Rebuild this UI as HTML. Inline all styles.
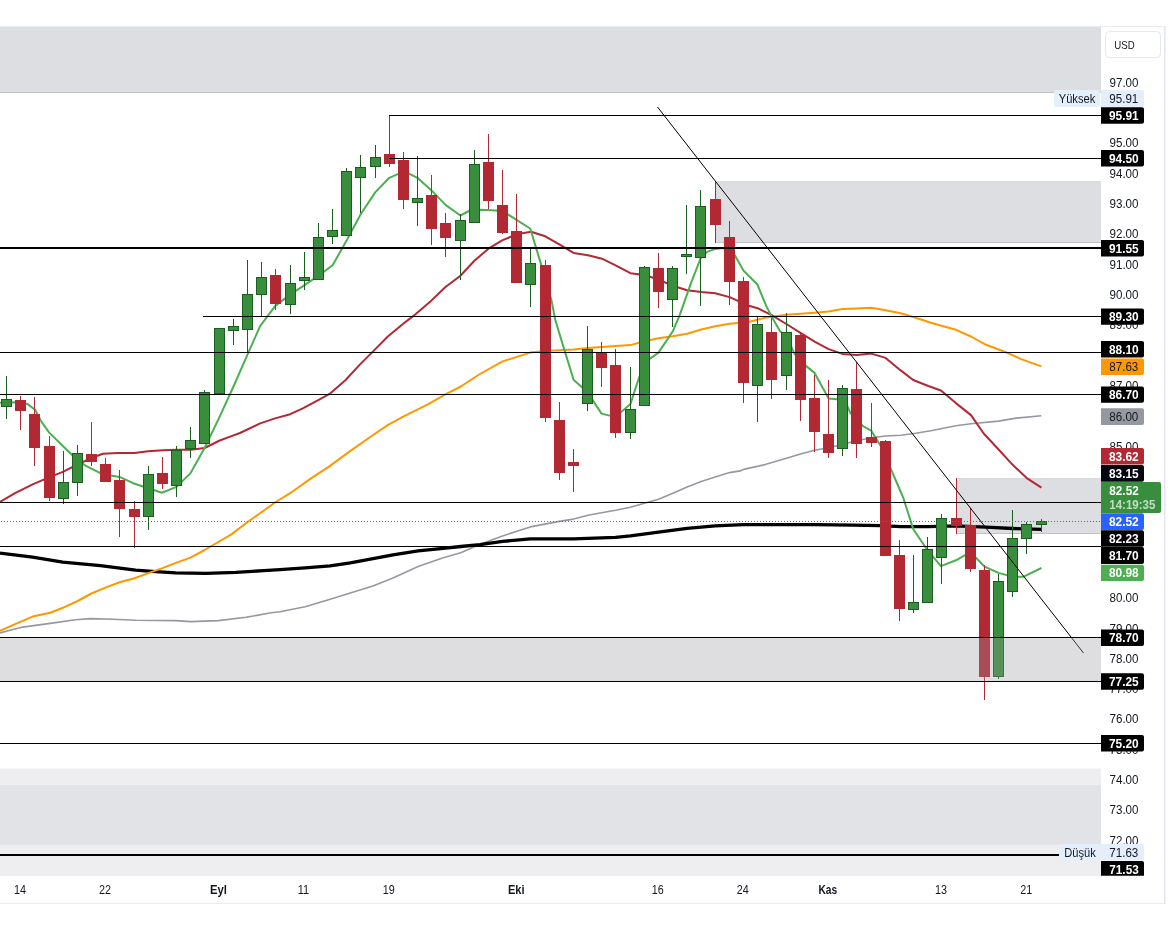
<!DOCTYPE html><html><head><meta charset="utf-8"><title>chart</title>
<style>html,body{margin:0;padding:0;background:#fff}body{width:1175px;height:939px;overflow:hidden}svg{display:block}text{font-family:"Liberation Sans",sans-serif}</style></head><body>
<svg width="1175" height="939" viewBox="0 0 1175 939" style="will-change:transform">
<rect width="1175" height="939" fill="#fff"/>
<defs><clipPath id="cc"><rect x="0" y="27" width="1101" height="849"/></clipPath></defs>
<g clip-path="url(#cc)">
<g shape-rendering="crispEdges">
<rect x="-2" y="20" width="1104" height="72.5" fill="rgba(120,123,134,0.25)" stroke="rgba(120,123,134,0.28)" stroke-width="1"/>
<rect x="716.5" y="181.5" width="386" height="61" fill="rgba(120,123,134,0.25)" stroke="rgba(120,123,134,0.28)" stroke-width="1"/>
<rect x="956.5" y="478.5" width="146" height="55" fill="rgba(120,123,134,0.25)" stroke="rgba(120,123,134,0.28)" stroke-width="1"/>
<rect x="-2" y="768.5" width="1104" height="120" fill="rgba(120,123,134,0.125)" stroke="rgba(120,123,134,0.08)" stroke-width="1"/>
<rect x="-2" y="785.5" width="1104" height="58.5" fill="rgba(120,123,134,0.095)" stroke="rgba(120,123,134,0.08)" stroke-width="1"/>
</g>
<path d="M0.0 632.9 L22.6 627.1 L50.2 623.4 L75.3 619.8 L90.4 618.6 L113.0 619.3 L135.6 620.3 L175.7 620.6 L190.8 621.6 L218.4 620.6 L246.0 617.3 L271.2 612.8 L280.0 611.8 L305.1 606.8 L330.2 599.3 L350.3 593.0 L372.9 586.0 L393.0 577.9 L418.1 566.6 L443.2 557.8 L460.8 552.8 L480.0 544.2 L502.6 535.9 L530.2 526.9 L559.3 521.4 L573.6 519.1 L588.0 515.3 L601.5 512.8 L615.6 510.3 L630.4 507.3 L644.4 503.3 L658.5 499.3 L672.8 493.2 L687.1 487.0 L701.2 481.4 L715.2 476.9 L729.6 472.6 L740.0 470.9 L743.6 469.4 L765.1 464.6 L786.4 458.3 L800.5 454.0 L814.6 450.3 L828.6 447.8 L842.4 444.5 L856.5 440.7 L871.3 437.7 L885.6 436.0 L900.7 435.2 L915.7 433.2 L930.8 430.7 L955.9 425.7 L971.0 423.7 L998.6 421.1 L1016.2 418.1 L1041.4 415.8" fill="none" stroke="#9598a1" stroke-width="1.6" stroke-linejoin="round"/>
<path d="M0.0 553.1 L32.6 557.1 L62.8 562.1 L100.4 565.6 L135.6 570.1 L155.7 571.6 L175.7 572.9 L205.9 573.4 L236.0 572.4 L263.6 570.6 L280.0 569.6 L305.1 567.9 L330.2 565.9 L350.3 562.9 L370.4 559.1 L393.0 554.8 L418.1 550.8 L443.2 548.3 L460.8 546.5 L480.0 544.7 L502.6 541.4 L530.2 538.9 L573.6 538.9 L615.6 537.4 L630.4 535.9 L658.5 532.2 L687.1 528.4 L715.2 525.9 L743.6 524.6 L777.7 524.7 L815.3 524.7 L853.0 525.2 L880.6 525.7 L900.7 526.7 L928.3 526.7 L955.9 525.9 L986.0 527.2 L1012.7 528.5 L1042.0 529.3" fill="none" stroke="#000" stroke-width="3.3" stroke-linejoin="round"/>
<path d="M0.0 630.9 L15.1 624.1 L32.6 616.6 L50.2 612.8 L62.8 607.8 L77.8 601.0 L91.4 593.5 L105.4 587.7 L119.5 582.2 L134.6 578.2 L148.4 573.1 L162.4 568.1 L176.5 562.6 L190.6 557.6 L204.6 550.0 L231.0 534.6 L248.6 521.3 L263.6 510.8 L275.7 502.0 L290.2 493.2 L310.3 478.9 L330.4 465.6 L348.0 452.6 L368.0 438.5 L388.1 424.9 L403.2 416.7 L428.3 404.1 L445.9 394.1 L460.9 386.5 L476.0 376.5 L480.0 374.0 L502.6 361.4 L530.2 352.6 L545.3 350.9 L573.6 349.6 L588.0 348.1 L615.6 345.9 L630.4 345.1 L644.4 341.3 L658.5 338.3 L672.8 336.3 L687.1 333.8 L701.2 329.5 L715.2 326.3 L729.6 323.8 L748.8 322.0 L765.1 317.7 L786.4 314.7 L814.6 312.7 L828.6 311.4 L842.4 308.9 L856.5 308.4 L871.3 307.7 L885.6 310.2 L900.7 313.2 L915.7 317.7 L930.8 322.7 L955.9 329.8 L971.0 336.5 L986.0 344.8 L1006.1 352.3 L1021.2 359.1 L1041.4 366.4" fill="none" stroke="#ff9800" stroke-width="2" stroke-linejoin="round"/>
<path d="M0.0 502.0 L15.1 493.2 L32.6 484.4 L50.2 476.9 L62.8 471.9 L77.8 464.3 L91.4 458.0 L102.9 453.8 L118.0 453.0 L134.3 453.0 L148.1 451.3 L163.2 450.3 L176.5 449.8 L190.8 449.8 L204.6 448.0 L219.7 440.5 L233.5 435.4 L240.0 433.0 L260.1 423.4 L275.1 418.4 L290.2 414.2 L302.8 408.4 L317.8 400.3 L330.4 393.3 L345.4 380.3 L360.5 363.9 L373.1 351.4 L388.1 336.3 L403.2 323.8 L413.4 315.9 L431.0 300.9 L445.5 287.0 L460.4 275.7 L474.4 260.7 L489.3 248.1 L502.6 240.1 L516.9 234.3 L531.0 231.8 L545.3 236.3 L559.3 244.4 L573.6 252.9 L588.0 255.2 L602.0 258.7 L616.1 265.7 L630.4 273.2 L644.4 275.0 L658.5 279.5 L672.8 285.8 L687.1 290.3 L701.2 292.1 L715.2 293.3 L729.6 297.1 L743.6 303.4 L748.8 305.7 L757.6 308.2 L771.6 315.2 L786.4 324.0 L800.5 332.8 L814.6 341.6 L828.6 349.1 L842.4 353.9 L856.5 354.9 L871.3 353.6 L885.6 357.9 L900.7 370.4 L913.2 380.0 L928.3 386.0 L940.9 390.5 L955.9 403.1 L971.0 415.1 L983.5 433.2 L998.6 449.5 L1010.6 462.6 L1013.7 465.8 L1027.2 478.4 L1041.4 487.7" fill="none" stroke="#b22833" stroke-width="2" stroke-linejoin="round"/>
<path d="M0.0 402.8 L15.1 402.3 L27.6 404.1 L35.1 409.8 L41.4 421.6 L49.0 432.4 L62.8 446.0 L75.3 458.0 L85.4 465.6 L100.4 473.1 L110.5 475.6 L119.5 476.9 L133.1 483.2 L148.4 488.2 L161.9 492.7 L176.5 486.9 L190.6 473.1 L204.6 448.0 L219.7 416.6 L233.5 386.5 L247.8 353.9 L260.1 326.1 L275.3 305.9 L290.1 294.6 L304.2 285.3 L318.5 275.7 L332.6 265.2 L346.6 240.6 L360.7 214.2 L375.2 192.4 L389.3 177.8 L399.6 173.3 L408.4 173.3 L417.4 177.8 L431.5 190.4 L445.5 204.9 L460.4 215.5 L469.9 210.5 L480.6 209.7 L496.3 210.5 L507.6 214.2 L530.2 228.5 L541.5 265.7 L551.6 300.9 L555.3 320.0 L562.9 345.1 L573.6 379.8 L588.0 392.8 L601.5 413.6 L610.6 415.9 L620.6 412.4 L630.4 404.1 L636.9 384.0 L644.4 362.7 L658.5 352.6 L672.8 331.3 L679.6 315.4 L690.9 283.3 L701.2 256.9 L707.2 251.9 L715.2 248.9 L723.5 248.1 L733.6 253.2 L743.6 270.7 L757.4 284.5 L766.2 305.9 L771.6 316.4 L780.2 331.5 L786.4 335.3 L794.0 352.9 L800.5 361.6 L814.6 372.9 L828.6 398.5 L836.7 399.3 L842.4 395.5 L850.5 413.1 L863.0 426.2 L871.3 430.7 L880.6 445.7 L890.6 468.3 L896.9 483.0 L903.2 497.6 L913.2 529.0 L925.8 547.8 L940.9 566.1 L955.9 560.3 L966.0 554.6 L976.0 557.8 L984.5 566.6 L998.6 572.9 L1012.7 576.7 L1023.7 576.7 L1041.4 568.0" fill="none" stroke="#4caf50" stroke-width="2" stroke-linejoin="round"/>
<g shape-rendering="crispEdges">
<rect x="6" y="376" width="1" height="43" fill="#1b5e20"/>
<rect x="1" y="399" width="11" height="8" fill="#1b5e20"/>
<rect x="2" y="400" width="9" height="6" fill="#388e3c"/>
<rect x="20" y="396" width="1" height="34" fill="#b22833"/>
<rect x="15" y="400" width="11" height="11" fill="#b22833"/>
<rect x="34" y="397" width="1" height="69" fill="#b22833"/>
<rect x="29" y="414" width="11" height="34" fill="#b22833"/>
<rect x="49" y="436" width="1" height="65" fill="#b22833"/>
<rect x="44" y="446" width="11" height="52" fill="#b22833"/>
<rect x="63" y="451" width="1" height="53" fill="#1b5e20"/>
<rect x="58" y="482" width="11" height="17" fill="#1b5e20"/>
<rect x="59" y="483" width="9" height="15" fill="#388e3c"/>
<rect x="77" y="445" width="1" height="51" fill="#1b5e20"/>
<rect x="72" y="453" width="11" height="30" fill="#1b5e20"/>
<rect x="73" y="454" width="9" height="28" fill="#388e3c"/>
<rect x="91" y="422" width="1" height="44" fill="#b22833"/>
<rect x="86" y="454" width="11" height="8" fill="#b22833"/>
<rect x="105" y="458" width="1" height="24" fill="#b22833"/>
<rect x="100" y="464" width="11" height="18" fill="#b22833"/>
<rect x="119" y="470" width="1" height="67" fill="#b22833"/>
<rect x="114" y="480" width="11" height="29" fill="#b22833"/>
<rect x="134" y="501" width="1" height="47" fill="#b22833"/>
<rect x="129" y="509" width="11" height="8" fill="#b22833"/>
<rect x="148" y="466" width="1" height="64" fill="#1b5e20"/>
<rect x="143" y="474" width="11" height="43" fill="#1b5e20"/>
<rect x="144" y="475" width="9" height="41" fill="#388e3c"/>
<rect x="162" y="457" width="1" height="32" fill="#b22833"/>
<rect x="157" y="473" width="11" height="11" fill="#b22833"/>
<rect x="176" y="446" width="1" height="51" fill="#1b5e20"/>
<rect x="171" y="450" width="11" height="36" fill="#1b5e20"/>
<rect x="172" y="451" width="9" height="34" fill="#388e3c"/>
<rect x="190" y="427" width="1" height="31" fill="#1b5e20"/>
<rect x="185" y="440" width="11" height="9" fill="#1b5e20"/>
<rect x="186" y="441" width="9" height="7" fill="#388e3c"/>
<rect x="204" y="390" width="1" height="54" fill="#1b5e20"/>
<rect x="199" y="392" width="11" height="52" fill="#1b5e20"/>
<rect x="200" y="393" width="9" height="50" fill="#388e3c"/>
<rect x="219" y="328" width="1" height="66" fill="#1b5e20"/>
<rect x="214" y="328" width="11" height="66" fill="#1b5e20"/>
<rect x="215" y="329" width="9" height="64" fill="#388e3c"/>
<rect x="233" y="319" width="1" height="26" fill="#1b5e20"/>
<rect x="228" y="326" width="11" height="5" fill="#1b5e20"/>
<rect x="229" y="327" width="9" height="3" fill="#388e3c"/>
<rect x="247" y="260" width="1" height="93" fill="#1b5e20"/>
<rect x="242" y="294" width="11" height="36" fill="#1b5e20"/>
<rect x="243" y="295" width="9" height="34" fill="#388e3c"/>
<rect x="261" y="262" width="1" height="54" fill="#1b5e20"/>
<rect x="256" y="277" width="11" height="18" fill="#1b5e20"/>
<rect x="257" y="278" width="9" height="16" fill="#388e3c"/>
<rect x="275" y="269" width="1" height="41" fill="#b22833"/>
<rect x="270" y="275" width="11" height="29" fill="#b22833"/>
<rect x="290" y="265" width="1" height="49" fill="#1b5e20"/>
<rect x="285" y="283" width="11" height="22" fill="#1b5e20"/>
<rect x="286" y="284" width="9" height="20" fill="#388e3c"/>
<rect x="304" y="252" width="1" height="38" fill="#1b5e20"/>
<rect x="299" y="277" width="11" height="4" fill="#1b5e20"/>
<rect x="300" y="278" width="9" height="2" fill="#388e3c"/>
<rect x="318" y="223" width="1" height="57" fill="#1b5e20"/>
<rect x="313" y="237" width="11" height="43" fill="#1b5e20"/>
<rect x="314" y="238" width="9" height="41" fill="#388e3c"/>
<rect x="332" y="209" width="1" height="35" fill="#1b5e20"/>
<rect x="327" y="230" width="11" height="7" fill="#1b5e20"/>
<rect x="328" y="231" width="9" height="5" fill="#388e3c"/>
<rect x="346" y="168" width="1" height="68" fill="#1b5e20"/>
<rect x="341" y="171" width="11" height="65" fill="#1b5e20"/>
<rect x="342" y="172" width="9" height="63" fill="#388e3c"/>
<rect x="360" y="155" width="1" height="58" fill="#1b5e20"/>
<rect x="355" y="167" width="11" height="11" fill="#1b5e20"/>
<rect x="356" y="168" width="9" height="9" fill="#388e3c"/>
<rect x="375" y="145" width="1" height="33" fill="#1b5e20"/>
<rect x="370" y="157" width="11" height="10" fill="#1b5e20"/>
<rect x="371" y="158" width="9" height="8" fill="#388e3c"/>
<rect x="389" y="116" width="1" height="51" fill="#b22833"/>
<rect x="384" y="154" width="11" height="10" fill="#b22833"/>
<rect x="403" y="152" width="1" height="57" fill="#b22833"/>
<rect x="398" y="160" width="11" height="40" fill="#b22833"/>
<rect x="417" y="156" width="1" height="70" fill="#1b5e20"/>
<rect x="412" y="198" width="11" height="5" fill="#1b5e20"/>
<rect x="413" y="199" width="9" height="3" fill="#388e3c"/>
<rect x="431" y="175" width="1" height="70" fill="#b22833"/>
<rect x="426" y="195" width="11" height="34" fill="#b22833"/>
<rect x="445" y="213" width="1" height="44" fill="#b22833"/>
<rect x="440" y="223" width="11" height="15" fill="#b22833"/>
<rect x="460" y="214" width="1" height="66" fill="#1b5e20"/>
<rect x="455" y="220" width="11" height="21" fill="#1b5e20"/>
<rect x="456" y="221" width="9" height="19" fill="#388e3c"/>
<rect x="474" y="150" width="1" height="73" fill="#1b5e20"/>
<rect x="469" y="164" width="11" height="59" fill="#1b5e20"/>
<rect x="470" y="165" width="9" height="57" fill="#388e3c"/>
<rect x="488" y="134" width="1" height="75" fill="#b22833"/>
<rect x="483" y="162" width="11" height="39" fill="#b22833"/>
<rect x="502" y="170" width="1" height="64" fill="#b22833"/>
<rect x="497" y="205" width="11" height="28" fill="#b22833"/>
<rect x="516" y="194" width="1" height="89" fill="#b22833"/>
<rect x="511" y="231" width="11" height="52" fill="#b22833"/>
<rect x="530" y="249" width="1" height="58" fill="#1b5e20"/>
<rect x="525" y="263" width="11" height="22" fill="#1b5e20"/>
<rect x="526" y="264" width="9" height="20" fill="#388e3c"/>
<rect x="545" y="260" width="1" height="162" fill="#b22833"/>
<rect x="540" y="265" width="11" height="153" fill="#b22833"/>
<rect x="559" y="402" width="1" height="78" fill="#b22833"/>
<rect x="554" y="420" width="11" height="53" fill="#b22833"/>
<rect x="573" y="449" width="1" height="43" fill="#b22833"/>
<rect x="568" y="462" width="11" height="4" fill="#b22833"/>
<rect x="587" y="326" width="1" height="85" fill="#1b5e20"/>
<rect x="582" y="349" width="11" height="55" fill="#1b5e20"/>
<rect x="583" y="350" width="9" height="53" fill="#388e3c"/>
<rect x="601" y="342" width="1" height="45" fill="#b22833"/>
<rect x="596" y="352" width="11" height="16" fill="#b22833"/>
<rect x="615" y="349" width="1" height="89" fill="#b22833"/>
<rect x="610" y="365" width="11" height="68" fill="#b22833"/>
<rect x="630" y="367" width="1" height="72" fill="#1b5e20"/>
<rect x="625" y="409" width="11" height="24" fill="#1b5e20"/>
<rect x="626" y="410" width="9" height="22" fill="#388e3c"/>
<rect x="644" y="266" width="1" height="140" fill="#1b5e20"/>
<rect x="639" y="267" width="11" height="139" fill="#1b5e20"/>
<rect x="640" y="268" width="9" height="137" fill="#388e3c"/>
<rect x="658" y="253" width="1" height="55" fill="#b22833"/>
<rect x="653" y="268" width="11" height="24" fill="#b22833"/>
<rect x="672" y="266" width="1" height="61" fill="#1b5e20"/>
<rect x="667" y="268" width="11" height="32" fill="#1b5e20"/>
<rect x="668" y="269" width="9" height="30" fill="#388e3c"/>
<rect x="686" y="205" width="1" height="69" fill="#1b5e20"/>
<rect x="681" y="254" width="11" height="3" fill="#1b5e20"/>
<rect x="682" y="255" width="9" height="1" fill="#388e3c"/>
<rect x="700" y="190" width="1" height="116" fill="#1b5e20"/>
<rect x="695" y="206" width="11" height="52" fill="#1b5e20"/>
<rect x="696" y="207" width="9" height="50" fill="#388e3c"/>
<rect x="715" y="181" width="1" height="62" fill="#b22833"/>
<rect x="710" y="199" width="11" height="26" fill="#b22833"/>
<rect x="729" y="221" width="1" height="84" fill="#b22833"/>
<rect x="724" y="237" width="11" height="45" fill="#b22833"/>
<rect x="743" y="277" width="1" height="126" fill="#b22833"/>
<rect x="738" y="281" width="11" height="102" fill="#b22833"/>
<rect x="757" y="317" width="1" height="105" fill="#1b5e20"/>
<rect x="752" y="324" width="11" height="62" fill="#1b5e20"/>
<rect x="753" y="325" width="9" height="60" fill="#388e3c"/>
<rect x="771" y="318" width="1" height="81" fill="#b22833"/>
<rect x="766" y="332" width="11" height="48" fill="#b22833"/>
<rect x="786" y="313" width="1" height="77" fill="#1b5e20"/>
<rect x="781" y="332" width="11" height="44" fill="#1b5e20"/>
<rect x="782" y="333" width="9" height="42" fill="#388e3c"/>
<rect x="800" y="333" width="1" height="88" fill="#b22833"/>
<rect x="795" y="335" width="11" height="65" fill="#b22833"/>
<rect x="814" y="375" width="1" height="77" fill="#b22833"/>
<rect x="809" y="398" width="11" height="34" fill="#b22833"/>
<rect x="828" y="380" width="1" height="78" fill="#b22833"/>
<rect x="823" y="434" width="11" height="19" fill="#b22833"/>
<rect x="842" y="385" width="1" height="71" fill="#1b5e20"/>
<rect x="837" y="388" width="11" height="61" fill="#1b5e20"/>
<rect x="838" y="389" width="9" height="59" fill="#388e3c"/>
<rect x="856" y="362" width="1" height="96" fill="#b22833"/>
<rect x="851" y="389" width="11" height="55" fill="#b22833"/>
<rect x="871" y="403" width="1" height="44" fill="#b22833"/>
<rect x="866" y="437" width="11" height="6" fill="#b22833"/>
<rect x="885" y="440" width="1" height="116" fill="#b22833"/>
<rect x="880" y="441" width="11" height="115" fill="#b22833"/>
<rect x="899" y="540" width="1" height="81" fill="#b22833"/>
<rect x="894" y="555" width="11" height="54" fill="#b22833"/>
<rect x="913" y="555" width="1" height="58" fill="#1b5e20"/>
<rect x="908" y="602" width="11" height="8" fill="#1b5e20"/>
<rect x="909" y="603" width="9" height="6" fill="#388e3c"/>
<rect x="927" y="537" width="1" height="66" fill="#1b5e20"/>
<rect x="922" y="549" width="11" height="54" fill="#1b5e20"/>
<rect x="923" y="550" width="9" height="52" fill="#388e3c"/>
<rect x="941" y="514" width="1" height="70" fill="#1b5e20"/>
<rect x="936" y="518" width="11" height="40" fill="#1b5e20"/>
<rect x="937" y="519" width="9" height="38" fill="#388e3c"/>
<rect x="956" y="478" width="1" height="56" fill="#b22833"/>
<rect x="951" y="518" width="11" height="8" fill="#b22833"/>
<rect x="970" y="508" width="1" height="64" fill="#b22833"/>
<rect x="965" y="525" width="11" height="44" fill="#b22833"/>
<rect x="984" y="565" width="1" height="135" fill="#b22833"/>
<rect x="979" y="570" width="11" height="107" fill="#b22833"/>
<rect x="998" y="574" width="1" height="105" fill="#1b5e20"/>
<rect x="993" y="581" width="11" height="96" fill="#1b5e20"/>
<rect x="994" y="582" width="9" height="94" fill="#388e3c"/>
<rect x="1012" y="510" width="1" height="87" fill="#1b5e20"/>
<rect x="1007" y="538" width="11" height="54" fill="#1b5e20"/>
<rect x="1008" y="539" width="9" height="52" fill="#388e3c"/>
<rect x="1026" y="522" width="1" height="32" fill="#1b5e20"/>
<rect x="1021" y="524" width="11" height="15" fill="#1b5e20"/>
<rect x="1022" y="525" width="9" height="13" fill="#388e3c"/>
<rect x="1041" y="519" width="1" height="13" fill="#1b5e20"/>
<rect x="1036" y="521" width="11" height="4" fill="#1b5e20"/>
<rect x="1037" y="522" width="9" height="2" fill="#388e3c"/>
</g>
<g shape-rendering="crispEdges" fill="#000">
<rect x="389" y="115" width="712" height="1"/>
<rect x="389" y="158" width="712" height="1"/>
<rect x="0" y="247" width="1101" height="2"/>
<rect x="203" y="316" width="898" height="1"/>
<rect x="0" y="352" width="1101" height="1"/>
<rect x="0" y="394" width="1101" height="1"/>
<rect x="0" y="502" width="1101" height="1"/>
<rect x="0" y="546" width="1101" height="1"/>
<rect x="0" y="637" width="1101" height="1"/>
<rect x="0" y="681" width="1101" height="1"/>
<rect x="0" y="743" width="1101" height="1"/>
<rect x="0" y="854" width="1059" height="2"/>
</g>
<line x1="0.5" y1="521.5" x2="1101" y2="521.5" stroke="#388e3c" stroke-width="1" stroke-dasharray="1 2" shape-rendering="crispEdges"/>
<line x1="657.5" y1="107" x2="1083.5" y2="653" stroke="#000" stroke-width="1"/>
<rect x="-2" y="638" width="1104" height="43" fill="rgba(152,152,158,0.32)" shape-rendering="crispEdges"/>
</g>
<g shape-rendering="crispEdges" fill="#e9ebf2">
<rect x="0" y="26" width="1166" height="1"/>
<rect x="1164" y="26" width="1" height="878" fill="#e4e7ef"/><rect x="1165" y="26" width="1" height="878" fill="#f1f2f7"/>
<rect x="0" y="903" width="1166" height="1"/>
</g>
<rect x="1105.5" y="31.5" width="55" height="26" rx="4" fill="#fff" stroke="#e6e8ef" stroke-width="1"/>
<text x="1114.3" y="48.7" font-size="11.5" fill="#131722" textLength="20.4" lengthAdjust="spacingAndGlyphs">USD</text>
<text x="1124" y="845.0" font-size="12" fill="#131722" text-anchor="middle" textLength="29" lengthAdjust="spacingAndGlyphs">72.00</text>
<text x="1124" y="814.0" font-size="12" fill="#131722" text-anchor="middle" textLength="29" lengthAdjust="spacingAndGlyphs">73.00</text>
<text x="1124" y="784.0" font-size="12" fill="#131722" text-anchor="middle" textLength="29" lengthAdjust="spacingAndGlyphs">74.00</text>
<text x="1124" y="754.0" font-size="12" fill="#131722" text-anchor="middle" textLength="29" lengthAdjust="spacingAndGlyphs">75.00</text>
<text x="1124" y="723.0" font-size="12" fill="#131722" text-anchor="middle" textLength="29" lengthAdjust="spacingAndGlyphs">76.00</text>
<text x="1124" y="693.0" font-size="12" fill="#131722" text-anchor="middle" textLength="29" lengthAdjust="spacingAndGlyphs">77.00</text>
<text x="1124" y="663.0" font-size="12" fill="#131722" text-anchor="middle" textLength="29" lengthAdjust="spacingAndGlyphs">78.00</text>
<text x="1124" y="633.0" font-size="12" fill="#131722" text-anchor="middle" textLength="29" lengthAdjust="spacingAndGlyphs">79.00</text>
<text x="1124" y="602.0" font-size="12" fill="#131722" text-anchor="middle" textLength="29" lengthAdjust="spacingAndGlyphs">80.00</text>
<text x="1124" y="451.0" font-size="12" fill="#131722" text-anchor="middle" textLength="29" lengthAdjust="spacingAndGlyphs">85.00</text>
<text x="1124" y="390.0" font-size="12" fill="#131722" text-anchor="middle" textLength="29" lengthAdjust="spacingAndGlyphs">87.00</text>
<text x="1124" y="329.0" font-size="12" fill="#131722" text-anchor="middle" textLength="29" lengthAdjust="spacingAndGlyphs">89.00</text>
<text x="1124" y="299.0" font-size="12" fill="#131722" text-anchor="middle" textLength="29" lengthAdjust="spacingAndGlyphs">90.00</text>
<text x="1124" y="269.0" font-size="12" fill="#131722" text-anchor="middle" textLength="29" lengthAdjust="spacingAndGlyphs">91.00</text>
<text x="1124" y="238.0" font-size="12" fill="#131722" text-anchor="middle" textLength="29" lengthAdjust="spacingAndGlyphs">92.00</text>
<text x="1124" y="208.0" font-size="12" fill="#131722" text-anchor="middle" textLength="29" lengthAdjust="spacingAndGlyphs">93.00</text>
<text x="1124" y="178.0" font-size="12" fill="#131722" text-anchor="middle" textLength="29" lengthAdjust="spacingAndGlyphs">94.00</text>
<text x="1124" y="147.0" font-size="12" fill="#131722" text-anchor="middle" textLength="29" lengthAdjust="spacingAndGlyphs">95.00</text>
<text x="1124" y="87.0" font-size="12" fill="#131722" text-anchor="middle" textLength="29" lengthAdjust="spacingAndGlyphs">97.00</text>
<rect x="1054" y="90" width="46" height="17" rx="2" fill="#e3effd"/>
<text x="1077" y="102.8" font-size="12" fill="#131722" text-anchor="middle" textLength="36.6" lengthAdjust="spacingAndGlyphs">Yüksek</text>
<path d="M1101 90H1142a2 2 0 0 1 2 2V105a2 2 0 0 1 -2 2H1101Z" fill="#e3effd"/>
<text x="1123.8" y="102.8" font-size="12" font-weight="normal" fill="#131722" text-anchor="middle" textLength="29" lengthAdjust="spacingAndGlyphs">95.91</text>
<path d="M1101 107.3H1142a2 2 0 0 1 2 2V121.7a2 2 0 0 1 -2 2H1101Z" fill="#000"/>
<text x="1123.8" y="119.8" font-size="12" font-weight="bold" fill="#fff" text-anchor="middle" textLength="29.8" lengthAdjust="spacingAndGlyphs">95.91</text>
<path d="M1101 150H1142a2 2 0 0 1 2 2V164.5a2 2 0 0 1 -2 2H1101Z" fill="#000"/>
<text x="1123.8" y="162.6" font-size="12" font-weight="bold" fill="#fff" text-anchor="middle" textLength="29.8" lengthAdjust="spacingAndGlyphs">94.50</text>
<path d="M1101 240H1142a2 2 0 0 1 2 2V254.60000000000002a2 2 0 0 1 -2 2H1101Z" fill="#000"/>
<text x="1123.8" y="252.6" font-size="12" font-weight="bold" fill="#fff" text-anchor="middle" textLength="29.8" lengthAdjust="spacingAndGlyphs">91.55</text>
<path d="M1101 308.4H1142a2 2 0 0 1 2 2V322.8a2 2 0 0 1 -2 2H1101Z" fill="#000"/>
<text x="1123.8" y="320.9" font-size="12" font-weight="bold" fill="#fff" text-anchor="middle" textLength="29.8" lengthAdjust="spacingAndGlyphs">89.30</text>
<path d="M1101 341H1142a2 2 0 0 1 2 2V355.6a2 2 0 0 1 -2 2H1101Z" fill="#000"/>
<text x="1123.8" y="353.6" font-size="12" font-weight="bold" fill="#fff" text-anchor="middle" textLength="29.8" lengthAdjust="spacingAndGlyphs">88.10</text>
<path d="M1101 358.6H1142a2 2 0 0 1 2 2V373a2 2 0 0 1 -2 2H1101Z" fill="#ff9800"/>
<text x="1123.8" y="371.1" font-size="12" font-weight="normal" fill="#131722" text-anchor="middle" textLength="29" lengthAdjust="spacingAndGlyphs">87.63</text>
<path d="M1101 386.4H1142a2 2 0 0 1 2 2V400.8a2 2 0 0 1 -2 2H1101Z" fill="#000"/>
<text x="1123.8" y="398.9" font-size="12" font-weight="bold" fill="#fff" text-anchor="middle" textLength="29.8" lengthAdjust="spacingAndGlyphs">86.70</text>
<path d="M1101 408.3H1142a2 2 0 0 1 2 2V422.9a2 2 0 0 1 -2 2H1101Z" fill="#9598a1"/>
<text x="1123.8" y="420.9" font-size="12" font-weight="normal" fill="#131722" text-anchor="middle" textLength="29" lengthAdjust="spacingAndGlyphs">86.00</text>
<path d="M1101 448H1142a2 2 0 0 1 2 2V462.6a2 2 0 0 1 -2 2H1101Z" fill="#b22833"/>
<text x="1123.8" y="460.6" font-size="12" font-weight="bold" fill="#fff" text-anchor="middle" textLength="29.8" lengthAdjust="spacingAndGlyphs">83.62</text>
<path d="M1101 465.1H1142a2 2 0 0 1 2 2V479.7a2 2 0 0 1 -2 2H1101Z" fill="#05050f"/>
<text x="1123.8" y="477.7" font-size="12" font-weight="bold" fill="#fff" text-anchor="middle" textLength="29.8" lengthAdjust="spacingAndGlyphs">83.15</text>
<path d="M1101 482H1159a2 2 0 0 1 2 2V511a2 2 0 0 1 -2 2H1101Z" fill="#388e3c"/>
<text x="1124" y="495.1" font-size="12" font-weight="bold" fill="#fff" text-anchor="middle" textLength="29.4" lengthAdjust="spacingAndGlyphs">82.52</text>
<text x="1109.3" y="509" font-size="12" font-weight="bold" fill="rgba(255,255,255,0.7)" textLength="46" lengthAdjust="spacingAndGlyphs">14:19:35</text>
<path d="M1101 513.2H1142a2 2 0 0 1 2 2V528a2 2 0 0 1 -2 2H1101Z" fill="#2962ff"/>
<text x="1123.8" y="525.9" font-size="12" font-weight="bold" fill="#fff" text-anchor="middle" textLength="29.8" lengthAdjust="spacingAndGlyphs">82.52</text>
<path d="M1101 530.3H1142a2 2 0 0 1 2 2V544.8a2 2 0 0 1 -2 2H1101Z" fill="#000"/>
<text x="1123.8" y="542.8" font-size="12" font-weight="bold" fill="#fff" text-anchor="middle" textLength="29.8" lengthAdjust="spacingAndGlyphs">82.23</text>
<path d="M1101 547.1H1142a2 2 0 0 1 2 2V561.9a2 2 0 0 1 -2 2H1101Z" fill="#000"/>
<text x="1123.8" y="559.8" font-size="12" font-weight="bold" fill="#fff" text-anchor="middle" textLength="29.8" lengthAdjust="spacingAndGlyphs">81.70</text>
<path d="M1101 564.7H1142a2 2 0 0 1 2 2V579a2 2 0 0 1 -2 2H1101Z" fill="#4caf50"/>
<text x="1123.8" y="577.1" font-size="12" font-weight="bold" fill="#fff" text-anchor="middle" textLength="29.8" lengthAdjust="spacingAndGlyphs">80.98</text>
<path d="M1101 629.6H1142a2 2 0 0 1 2 2V644a2 2 0 0 1 -2 2H1101Z" fill="#000"/>
<text x="1123.8" y="642.1" font-size="12" font-weight="bold" fill="#fff" text-anchor="middle" textLength="29.8" lengthAdjust="spacingAndGlyphs">78.70</text>
<path d="M1101 673.3H1142a2 2 0 0 1 2 2V687.7a2 2 0 0 1 -2 2H1101Z" fill="#000"/>
<text x="1123.8" y="685.8" font-size="12" font-weight="bold" fill="#fff" text-anchor="middle" textLength="29.8" lengthAdjust="spacingAndGlyphs">77.25</text>
<path d="M1101 735H1142a2 2 0 0 1 2 2V749.4a2 2 0 0 1 -2 2H1101Z" fill="#000"/>
<text x="1123.8" y="747.5" font-size="12" font-weight="bold" fill="#fff" text-anchor="middle" textLength="29.8" lengthAdjust="spacingAndGlyphs">75.20</text>
<rect x="1059" y="844" width="41" height="16.5" rx="2" fill="#e3effd"/>
<text x="1080" y="856.6" font-size="12" fill="#131722" text-anchor="middle" textLength="31.5" lengthAdjust="spacingAndGlyphs">Düşük</text>
<path d="M1101 844H1142a2 2 0 0 1 2 2V858.5a2 2 0 0 1 -2 2H1101Z" fill="#e3effd"/>
<text x="1123.8" y="856.5" font-size="12" font-weight="normal" fill="#131722" text-anchor="middle" textLength="29" lengthAdjust="spacingAndGlyphs">71.63</text>
<path d="M1101 861H1142a2 2 0 0 1 2 2V875.8H1101Z" fill="#000"/>
<text x="1124" y="873.7" font-size="12" font-weight="bold" fill="#fff" text-anchor="middle" textLength="29.4" lengthAdjust="spacingAndGlyphs">71.53</text>
<text x="20" y="894" font-size="12" font-weight="normal" fill="#131722" text-anchor="middle" textLength="12" lengthAdjust="spacingAndGlyphs">14</text>
<text x="105" y="894" font-size="12" font-weight="normal" fill="#131722" text-anchor="middle" textLength="12" lengthAdjust="spacingAndGlyphs">22</text>
<text x="218.5" y="894" font-size="12" font-weight="bold" fill="#131722" text-anchor="middle" textLength="17" lengthAdjust="spacingAndGlyphs">Eyl</text>
<text x="303.4" y="894" font-size="12" font-weight="normal" fill="#131722" text-anchor="middle" textLength="11.4" lengthAdjust="spacingAndGlyphs">11</text>
<text x="388.7" y="894" font-size="12" font-weight="normal" fill="#131722" text-anchor="middle" textLength="12" lengthAdjust="spacingAndGlyphs">19</text>
<text x="516.2" y="894" font-size="12" font-weight="bold" fill="#131722" text-anchor="middle" textLength="16.6" lengthAdjust="spacingAndGlyphs">Eki</text>
<text x="657.8" y="894" font-size="12" font-weight="normal" fill="#131722" text-anchor="middle" textLength="12" lengthAdjust="spacingAndGlyphs">16</text>
<text x="742.8" y="894" font-size="12" font-weight="normal" fill="#131722" text-anchor="middle" textLength="12" lengthAdjust="spacingAndGlyphs">24</text>
<text x="827.8" y="894" font-size="12" font-weight="bold" fill="#131722" text-anchor="middle" textLength="18.7" lengthAdjust="spacingAndGlyphs">Kas</text>
<text x="941.1" y="894" font-size="12" font-weight="normal" fill="#131722" text-anchor="middle" textLength="12" lengthAdjust="spacingAndGlyphs">13</text>
<text x="1026.2" y="894" font-size="12" font-weight="normal" fill="#131722" text-anchor="middle" textLength="12" lengthAdjust="spacingAndGlyphs">21</text>
</svg></body></html>
